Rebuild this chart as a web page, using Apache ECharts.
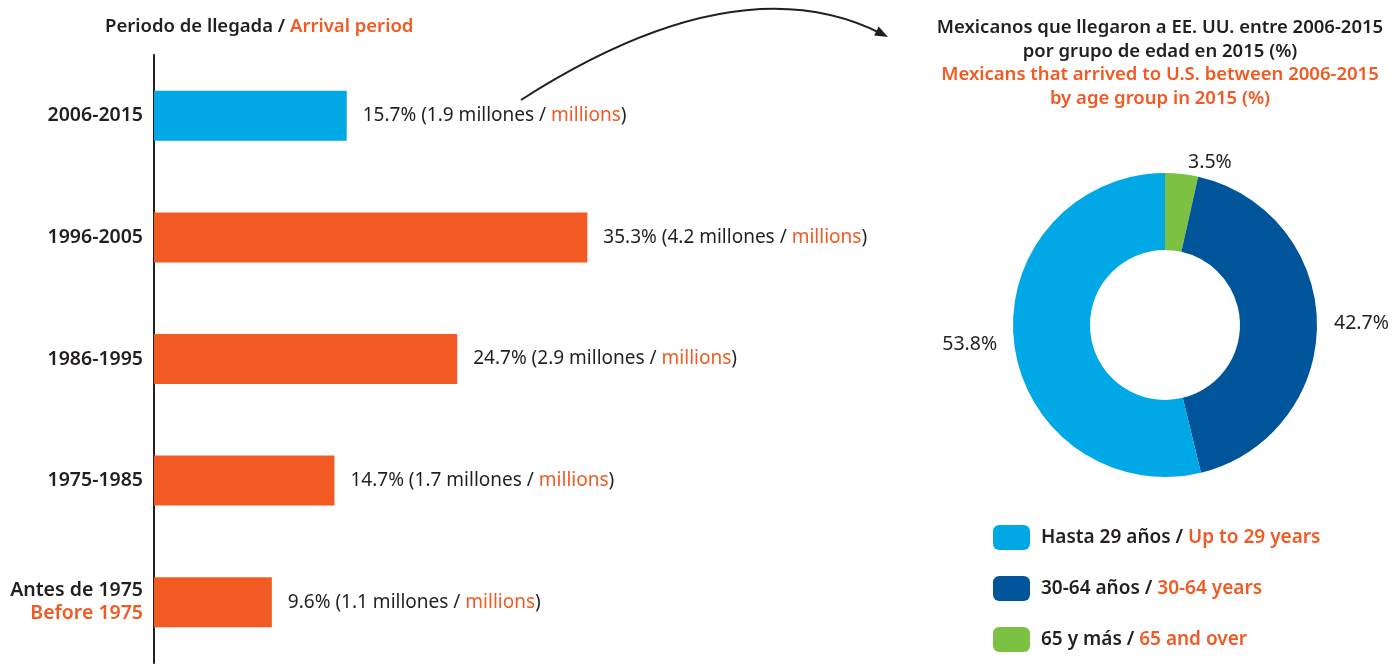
<!DOCTYPE html>
<html><head><meta charset="utf-8">
<script src="https://cdn.jsdelivr.net/npm/echarts@6/dist/echarts.min.js"></script>
<style>html,body{margin:0;padding:0;background:#fff}#c{width:1394px;height:669px}</style>
</head><body><div id="c"></div>
<script>
const categories = ['2006-2015', '1996-2005', '1986-1995', '1975-1985', 'Antes de 1975'];
const categoriesEn = ['', '', '', '', 'Before 1975'];
const pctValues = [15.7, 35.3, 24.7, 14.7, 9.6];
const millionsValues = [1.9, 4.2, 2.9, 1.7, 1.1];
const ageGroups = ['Hasta 29 años', '30-64 años', '65 y más'];
const ageGroupsEn = ['Up to 29 years', '30-64 years', '65 and over'];
const agePcts = [53.8, 42.7, 3.5];

const FONT = '"Noto Sans", sans-serif';
const DARK = '#231f20', ORANGE = '#f15a22', LBLUE = '#00a9e6', DBLUE = '#00559a', GREEN = '#7cc142';
const ageColors = [LBLUE, DBLUE, GREEN];
const FS = 19;

const chart = echarts.init(document.getElementById('c'));
const pieOrder = [2, 1, 0];
const pieData = pieOrder.map(i => ({ name: ageGroups[i], value: agePcts[i], itemStyle: { color: ageColors[i] } }));

chart.setOption({
  animation: false,
  textStyle: { fontFamily: FONT },
  title: [{
    text: '{a|Periodo de llegada / }{b|Arrival period}',
    left: 100, top: 12,
    textStyle: { rich: {
      a: { fontFamily: FONT, fontSize: 18.5, fontWeight: 600, color: DARK },
      b: { fontFamily: FONT, fontSize: 18.5, fontWeight: 600, color: ORANGE } } }
  }, {
    text: '{a|Mexicanos que llegaron a EE. UU. entre 2006-2015}\n{a|por grupo de edad en 2015 (%)}\n{b|Mexicans that arrived to U.S. between 2006-2015}\n{b|by age group in 2015 (%)}',
    left: 1155, top: 11, textAlign: 'center',
    textStyle: { rich: {
      a: { fontFamily: FONT, fontSize: 18.5, fontWeight: 600, color: DARK, lineHeight: 23.5, align: 'center' },
      b: { fontFamily: FONT, fontSize: 18.5, fontWeight: 600, color: ORANGE, lineHeight: 23.5, align: 'center' } } }
  }],
  grid: { left: 154, top: 55, height: 608, width: 982, containLabel: false },
  xAxis: { type: 'value', min: 0, max: 80, show: false },
  yAxis: {
    type: 'category', inverse: true, data: categories,
    axisLine: { show: true, lineStyle: { color: DARK, width: 2 } },
    axisTick: { show: false },
    axisLabel: {
      margin: 11,
      formatter: (v, i) => categoriesEn[i] ? '{a|' + v + '}\n{b|' + categoriesEn[i] + '}' : '{a|' + v + '}',
      rich: {
        a: { fontFamily: FONT, fontSize: 19.5, fontWeight: 600, color: DARK, lineHeight: 23, align: 'right' },
        b: { fontFamily: FONT, fontSize: 19.5, fontWeight: 600, color: ORANGE, lineHeight: 23, align: 'right' }
      }
    }
  },
  legend: {
    orient: 'vertical', left: 993, top: 525, padding: 0,
    data: ageGroups,
    icon: 'roundRect', itemWidth: 37, itemHeight: 25, itemGap: 26,
    selectedMode: false,
    formatter: n => { const i = ageGroups.indexOf(n); return '{a|' + n + ' / }{b|' + ageGroupsEn[i] + '}'; },
    textStyle: { padding: [0, 0, 0, 6], rich: {
      a: { fontFamily: FONT, fontSize: FS, fontWeight: 600, color: DARK },
      b: { fontFamily: FONT, fontSize: FS, fontWeight: 600, color: ORANGE } } }
  },
  series: [{
    type: 'bar', barWidth: 50,
    data: pctValues,
    itemStyle: { color: p => p.dataIndex === 0 ? LBLUE : ORANGE },
    label: {
      show: true, position: 'right', distance: 16,
      formatter: p => '{a|' + pctValues[p.dataIndex].toFixed(1) + '% (' + millionsValues[p.dataIndex].toFixed(1) + ' millones / }{b|millions}{a|)}',
      rich: {
        a: { fontFamily: FONT, fontSize: FS, color: DARK },
        b: { fontFamily: FONT, fontSize: FS, color: ORANGE }
      }
    }
  }, {
    type: 'pie', center: [1165, 325], radius: [75, 152], startAngle: 90, clockwise: true,
    data: pieData, silent: true,
    label: { show: true, position: 'outside', overflow: 'none', formatter: p => p.value.toFixed(1) + '%', fontFamily: FONT, fontSize: 19.5, color: DARK },
    labelLine: { show: false, length: 12, length2: 0 }
  }],
  graphic: [{
    type: 'bezierCurve',
    shape: { x1: 521, y1: 100, x2: 882, y2: 34, cpx1: 738, cpy1: -39 },
    style: { stroke: DARK, lineWidth: 2, fill: null }
  }, {
    type: 'polygon',
    shape: { points: [[888, 37], [874.1, 35.6], [878.7, 26.6]] },
    style: { fill: DARK }
  }]
});
</script></body></html>
